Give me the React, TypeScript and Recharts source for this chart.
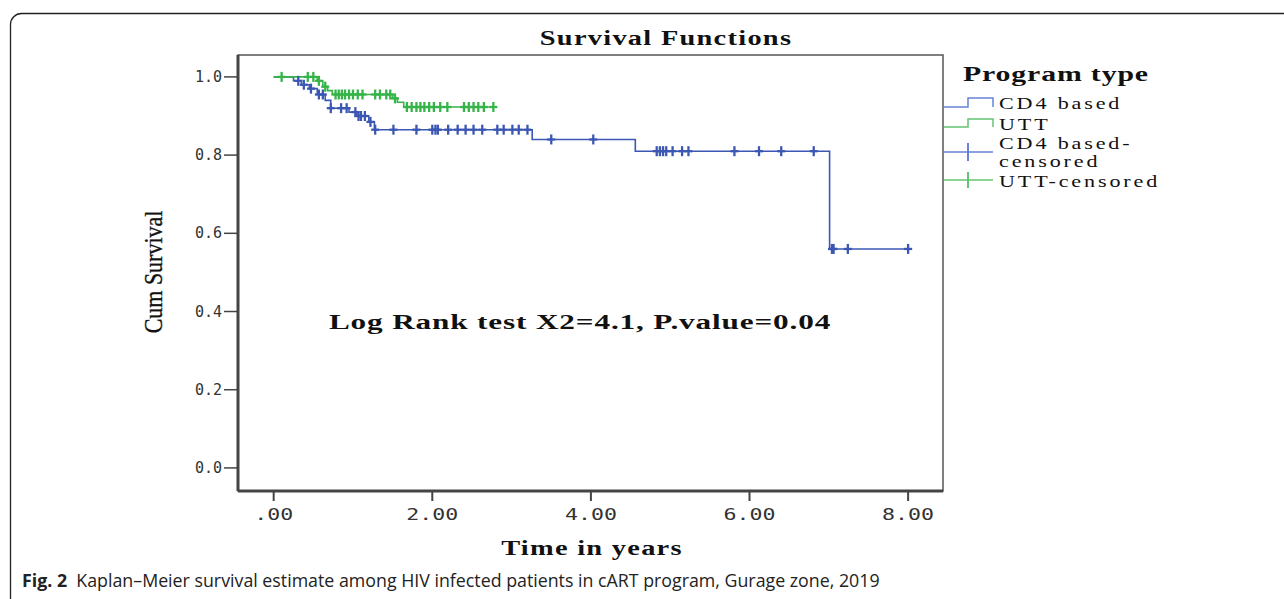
import React from 'react';
import { ComposedChart, Line, Scatter, XAxis, YAxis, ReferenceArea } from 'recharts';

// Kaplan-Meier steps (time in years, cumulative survival)
const cd4Time = [0, 0.25, 0.35, 0.45, 0.55, 0.65, 0.72, 0.95, 1.05, 1.2, 1.27, 3.26, 4.56, 7.01, 8.05];
const cd4Surv = [1.0, 0.99, 0.98, 0.97, 0.955, 0.94, 0.92, 0.91, 0.9, 0.885, 0.865, 0.84, 0.81, 0.56, 0.56];
const cd4Censored = [
  0.31, 0.38, 0.47, 0.57, 0.62, 0.72, 0.85, 0.92, 1.03, 1.07, 1.1, 1.15, 1.22, 1.28, 1.51, 1.8, 2.0,
  2.04, 2.07, 2.2, 2.32, 2.42, 2.52, 2.63, 2.82, 2.9, 3.01, 3.09, 3.2, 3.5, 4.03, 4.83, 4.87, 4.91,
  4.95, 5.03, 5.15, 5.23, 5.81, 6.12, 6.4, 6.81, 7.04, 7.06, 7.24, 8.0,
];

const uttTime = [0, 0.55, 0.62, 0.68, 0.74, 1.5, 1.56, 1.64, 2.77];
const uttSurv = [1.0, 0.99, 0.975, 0.965, 0.955, 0.945, 0.935, 0.923, 0.923];
const uttCensored = [
  0.1, 0.43, 0.5, 0.57, 0.65, 0.78, 0.82, 0.86, 0.9, 0.95, 1.0, 1.06, 1.12, 1.28, 1.34, 1.42, 1.47,
  1.53, 1.68, 1.74, 1.8, 1.85, 1.9, 1.96, 2.02, 2.1, 2.19, 2.4, 2.46, 2.52, 2.58, 2.65, 2.77,
];

const xTicks = [0, 2, 4, 6, 8];
const yTicks = [0, 0.2, 0.4, 0.6, 0.8, 1.0];

const BLUE = '#3b57b3';
const GREEN = '#37b449';
const BLUE_LIGHT = '#6683d6';
const GREEN_LIGHT = '#63c470';

// survival value of the step curve at time t
const stepAt = (times: number[], surv: number[], t: number) => {
  let s = surv[0];
  for (let i = 0; i < times.length; i++) if (times[i] <= t) s = surv[i];
  return s;
};

const cd4Line = cd4Time.map((t, i) => ({ t, s: cd4Surv[i] }));
const uttLine = uttTime.map((t, i) => ({ t, s: uttSurv[i] }));
const cd4Marks = cd4Censored.map((t) => ({ t, s: stepAt(cd4Time, cd4Surv, t) }));
const uttMarks = uttCensored.map((t) => ({ t, s: stepAt(uttTime, uttSurv, t) }));

const serif = '"Liberation Serif", "DejaVu Serif", serif';
const mono = '"DejaVu Sans Mono", monospace';

const censorShape = (color: string) => (props: any) => {
  const { cx, cy } = props;
  return (
    <g stroke={color} strokeWidth={2.3}>
      <line x1={cx} y1={cy - 5} x2={cx} y2={cy + 5} />
      <line x1={cx - 4} y1={cy} x2={cx + 4} y2={cy} />
    </g>
  );
};

const XTick = (props: any) => {
  const { x, y, payload } = props;
  const v = payload.value;
  const label = v === 0 ? '.00' : v.toFixed(2);
  return (
    <text
      transform={`translate(${x},${y + 17}) scale(1.35,1)`}
      textAnchor="middle"
      fontFamily={mono}
      fontSize={16}
      fill="#333"
    >
      {label}
    </text>
  );
};

const YTick = (props: any) => {
  const { x, y, payload } = props;
  return (
    <text x={x} y={y + 5} textAnchor="end" fontFamily={mono} fontSize={15} fill="#333">
      {payload.value.toFixed(1)}
    </text>
  );
};

const Stretch = ({ x, y, size, bold, children, sx = 1.4, ls = 0, anchor = 'start' }: any) => (
  <text
    transform={`translate(${x},${y}) scale(${sx},1)`}
    textAnchor={anchor}
    fontFamily={serif}
    fontSize={size}
    fontWeight={bold ? 'bold' : 'normal'}
    letterSpacing={ls}
    fill="#111"
  >
    {children}
  </text>
);

export default function App() {
  return (
    <div style={{ position: 'absolute', left: 0, top: 0, width: 1284, height: 599, overflow: 'hidden', background: '#fff' }}>
      <svg width={1284} height={599} style={{ position: 'absolute', left: 0, top: 0 }}>
        <rect x={10.5} y={13.5} width={1320} height={640} rx={11} fill="none" stroke="#222" strokeWidth={1.3} />
      </svg>

      <div style={{ position: 'absolute', left: 0, top: 0 }}>
        <ComposedChart width={1284} height={599} margin={{ top: 55, right: 341, bottom: 68, left: 148 }}>
          <XAxis
            type="number"
            dataKey="t"
            domain={[-0.45, 8.44]}
            ticks={xTicks}
            allowDataOverflow
            axisLine={{ stroke: '#444', strokeWidth: 3 }}
            tickLine={{ stroke: '#444', strokeWidth: 2 }}
            tickSize={10}
            height={40}
            tick={<XTick />}
            label={{
              content: () => (
                <Stretch x={592} y={555} size={20} bold anchor="middle" sx={1.42} ls={0.9}>
                  Time in years
                </Stretch>
              ),
            }}
          />
          <YAxis
            type="number"
            dataKey="s"
            domain={[-0.059, 1.056]}
            ticks={yTicks}
            allowDataOverflow
            width={90}
            axisLine={{ stroke: '#444', strokeWidth: 3 }}
            tickLine={{ stroke: '#444', strokeWidth: 1.5 }}
            tickSize={14}
            tick={<YTick />}
            label={{
              content: () => (
                <text
                  transform="translate(162,272) rotate(-90) scale(1,1.15)"
                  textAnchor="middle"
                  fontFamily={serif}
                  fontSize={22}
                  fill="#111"
                  stroke="#111"
                  strokeWidth={0.3}
                >
                  Cum Survival
                </text>
              ),
            }}
          />
          <ReferenceArea x1={-0.45} x2={8.44} y1={-0.059} y2={1.056} fill="none" stroke="#555" strokeWidth={1.5} />
          <Line
            data={cd4Line}
            dataKey="s"
            type="stepAfter"
            stroke={BLUE}
            strokeWidth={1.6}
            dot={false}
            isAnimationActive={false}
          />
          <Line
            data={uttLine}
            dataKey="s"
            type="stepAfter"
            stroke={GREEN}
            strokeWidth={1.6}
            dot={false}
            isAnimationActive={false}
          />
          <Scatter data={cd4Marks} dataKey="s" shape={censorShape(BLUE)} isAnimationActive={false} />
          <Scatter data={uttMarks} dataKey="s" shape={censorShape(GREEN)} isAnimationActive={false} />
        </ComposedChart>
      </div>

      <svg width={1284} height={599} style={{ position: 'absolute', left: 0, top: 0, pointerEvents: 'none' }}>
        <Stretch x={666} y={45} size={20} bold anchor="middle" sx={1.42} ls={0.9}>
          Survival Functions
        </Stretch>
        <Stretch x={580} y={329} size={22} bold anchor="middle" sx={1.42} ls={0.6}>
          Log Rank test X2=4.1, P.value=0.04
        </Stretch>

        <Stretch x={963} y={81} size={21} bold sx={1.42} ls={0.6}>
          Program type
        </Stretch>

        <g fill="none" strokeWidth={1.5}>
          <polyline points="944,107 968,107 968,98 993,98 993,107" stroke={BLUE_LIGHT} />
          <polyline points="944,127 968,127 968,119 993,119 993,127" stroke={GREEN_LIGHT} />
          <line x1={944} y1={152} x2={993} y2={152} stroke={BLUE_LIGHT} />
          <line x1={968} y1={143} x2={968} y2={161} stroke={BLUE_LIGHT} strokeWidth={2} />
          <line x1={944} y1={180} x2={993} y2={180} stroke={GREEN_LIGHT} />
          <line x1={968} y1={172} x2={968} y2={188} stroke={GREEN_LIGHT} strokeWidth={2} />
        </g>
        <Stretch x={999} y={109} size={17} sx={1.3} ls={2.2}>CD4 based</Stretch>
        <Stretch x={999} y={130} size={17} sx={1.3} ls={2.2}>UTT</Stretch>
        <Stretch x={999} y={149} size={17} sx={1.3} ls={2.2}>CD4 based-</Stretch>
        <Stretch x={999} y={167} size={17} sx={1.3} ls={2.2}>censored</Stretch>
        <Stretch x={999} y={187} size={17} sx={1.3} ls={2.2}>UTT-censored</Stretch>
      </svg>

      <div
        style={{
          position: 'absolute',
          left: 22,
          top: 568,
          fontFamily: '"Open Sans", "Noto Sans", sans-serif',
          fontSize: 17.8,
          lineHeight: '24px',
          color: '#222',
          whiteSpace: 'nowrap',
        }}
      >
        <b>Fig. 2</b>&nbsp;&nbsp;Kaplan–Meier survival estimate among HIV infected patients in cART program, Gurage zone, 2019
      </div>
    </div>
  );
}
